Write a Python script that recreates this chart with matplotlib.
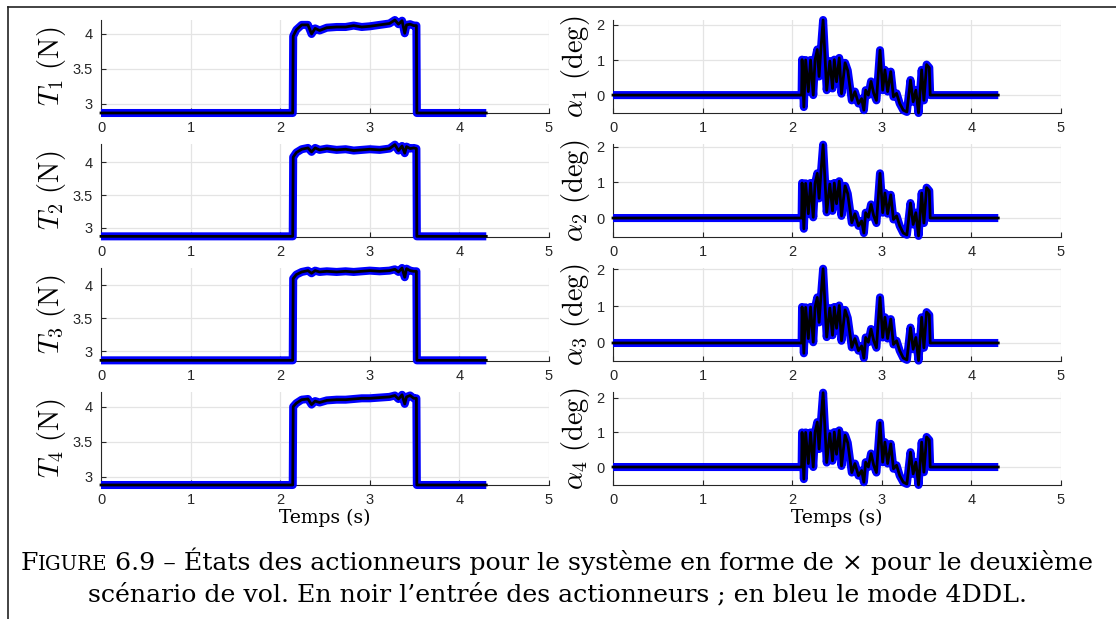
import matplotlib
matplotlib.use('Agg')
import matplotlib.pyplot as plt
from matplotlib.lines import Line2D
from matplotlib.ticker import FormatStrFormatter

plt.rcParams['font.family'] = 'Liberation Sans'
plt.rcParams['mathtext.fontset'] = 'cm'

# time axis of the thrust panels (s)
t_thrust = [0.00, 2.14, 2.145, 2.18, 2.24, 2.31, 2.35, 2.39, 2.44, 2.52, 2.63, 2.73, 2.82, 2.91,
            3.00, 3.11, 3.22, 3.28, 3.32, 3.36, 3.39, 3.41, 3.45, 3.49, 3.52, 3.525, 4.30]
T1 = [2.87, 2.87, 3.97, 4.06, 4.13, 4.13, 4.00, 4.08, 4.05, 4.09, 4.10, 4.10, 4.12, 4.10,
      4.11, 4.13, 4.15, 4.20, 4.14, 4.19, 4.01, 4.13, 4.14, 4.12, 4.12, 2.87, 2.87]
T2 = [2.87, 2.87, 4.08, 4.15, 4.20, 4.22, 4.16, 4.22, 4.19, 4.21, 4.19, 4.20, 4.18, 4.19,
      4.20, 4.19, 4.21, 4.27, 4.18, 4.25, 4.14, 4.24, 4.21, 4.22, 4.21, 2.87, 2.87]
T3 = [2.86, 2.86, 4.10, 4.16, 4.20, 4.22, 4.18, 4.22, 4.20, 4.21, 4.20, 4.21, 4.20, 4.21,
      4.22, 4.21, 4.22, 4.24, 4.20, 4.26, 4.12, 4.25, 4.22, 4.21, 4.21, 2.86, 2.86]
T4 = [2.88, 2.88, 4.00, 4.05, 4.10, 4.11, 4.03, 4.08, 4.06, 4.09, 4.10, 4.10, 4.11, 4.12,
      4.12, 4.13, 4.14, 4.16, 4.11, 4.17, 4.04, 4.14, 4.16, 4.12, 4.12, 2.88, 2.88]

# time axis of the tilt-angle panels (s)
t_alpha = [0.00, 2.105, 2.11, 2.13, 2.15, 2.18, 2.205, 2.235, 2.255, 2.28, 2.30, 2.32, 2.345,
           2.385, 2.42, 2.45, 2.47, 2.495, 2.525, 2.55, 2.59, 2.62, 2.665, 2.70, 2.74, 2.775,
           2.80, 2.82, 2.85, 2.88, 2.91, 2.94, 2.98, 3.01, 3.035, 3.065, 3.10, 3.13, 3.165,
           3.20, 3.24, 3.28, 3.32, 3.35, 3.38, 3.41, 3.445, 3.47, 3.50, 3.53, 3.54, 4.30]
alpha1 = [0, 0, 1.01, -0.34, 1.00, 0.10, 1.00, 0.00, 1.00, 1.30, 0.53, 1.30, 2.14,
          0.14, 0.97, 0.19, 1.01, 0.38, 1.06, 0.04, 0.92, 0.70, -0.15, 0.10, -0.24, -0.10,
          -0.43, 0.14, 0.00, 0.39, 0.05, -0.15, 1.28, 0.14, 0.72, 0.10, 0.67, -0.05, 0.05,
          -0.24, -0.43, -0.48, 0.43, -0.19, 0.14, -0.51, 0.72, -0.15, 0.87, 0.78, 0.00, 0.00]
alpha2 = [0, 0, 0.98, -0.30, 0.97, 0.12, 0.98, 0.02, 0.97, 1.25, 0.55, 1.25, 2.05,
          0.16, 0.95, 0.20, 0.98, 0.40, 1.03, 0.06, 0.90, 0.68, -0.13, 0.12, -0.22, -0.08,
          -0.42, 0.15, 0.02, 0.38, 0.06, -0.14, 1.25, 0.15, 0.70, 0.12, 0.65, -0.04, 0.06,
          -0.22, -0.42, -0.47, 0.42, -0.18, 0.15, -0.50, 0.70, -0.14, 0.85, 0.76, 0.00, 0.00]
alpha3 = [0, 0, 0.98, -0.28, 0.97, 0.12, 0.98, 0.02, 0.97, 1.24, 0.56, 1.24, 2.02,
          0.16, 0.95, 0.21, 0.98, 0.40, 1.02, 0.06, 0.90, 0.68, -0.12, 0.12, -0.21, -0.08,
          -0.41, 0.15, 0.02, 0.38, 0.06, -0.13, 1.24, 0.15, 0.70, 0.12, 0.65, -0.04, 0.06,
          -0.21, -0.41, -0.46, 0.42, -0.17, 0.15, -0.48, 0.70, -0.13, 0.84, 0.76, 0.00, 0.00]
alpha4 = [0, 0, 1.00, -0.35, 1.00, 0.10, 1.00, 0.00, 1.00, 1.30, 0.52, 1.30, 2.15,
          0.13, 0.97, 0.18, 1.01, 0.37, 1.06, 0.03, 0.92, 0.70, -0.16, 0.10, -0.25, -0.10,
          -0.44, 0.14, 0.00, 0.39, 0.05, -0.16, 1.28, 0.14, 0.72, 0.10, 0.67, -0.05, 0.05,
          -0.25, -0.44, -0.49, 0.43, -0.20, 0.14, -0.52, 0.72, -0.15, 0.87, 0.78, 0.00, 0.00]

thrusts = [T1, T2, T3, T4]
alphas = [alpha1, alpha2, alpha3, alpha4]
thrust_ylims = [(2.87, 4.20), (2.86, 4.28), (2.85, 4.26), (2.88, 4.21)]
alpha_ylims = [(-0.51, 2.14), (-0.53, 2.07), (-0.49, 2.04), (-0.52, 2.17)]

W, H = 1116, 619
fig = plt.figure(figsize=(W / 100, H / 100), dpi=100)

tops = [20, 144, 268, 392]
ax_h = 93
ax_w = 448
grey = '#262626'


def style(ax, ylim, yticks):
    ax.set_xlim(0, 5)
    ax.set_ylim(*ylim)
    ax.set_xticks(range(6))
    ax.set_yticks(yticks)
    ax.yaxis.set_major_formatter(FormatStrFormatter('%g'))
    ax.grid(True, color='#e4e4e4', lw=0.9)
    ax.set_axisbelow(True)
    ax.spines['top'].set_visible(False)
    ax.spines['right'].set_visible(False)
    for s in ('left', 'bottom'):
        ax.spines[s].set_color(grey)
        ax.spines[s].set_linewidth(0.8)
    ax.tick_params(direction='in', length=3.5, width=0.8, colors=grey, labelsize=10.5, pad=6)


def draw(ax, t, v):
    ax.plot(t, v, color='blue', lw=5.8, solid_joinstyle='round', solid_capstyle='butt',
            clip_on=False, zorder=3)
    ax.plot(t, v, color='black', lw=2.0, solid_joinstyle='round', clip_on=False, zorder=4)


for i in range(4):
    bottom = 1 - (tops[i] + ax_h) / H
    axl = fig.add_axes([101 / W, bottom, ax_w / W, ax_h / H])
    style(axl, thrust_ylims[i], [3, 3.5, 4])
    draw(axl, t_thrust, thrusts[i])
    axl.set_ylabel(r'$T_%d\ \mathrm{(N)}$' % (i + 1), fontsize=20.5)
    axl.yaxis.set_label_coords(-0.074, 0.5)

    axr = fig.add_axes([613 / W, bottom, ax_w / W, ax_h / H])
    style(axr, alpha_ylims[i], [0, 1, 2])
    draw(axr, t_alpha, alphas[i])
    axr.set_ylabel(r'$\alpha_%d\ \mathrm{(deg)}$' % (i + 1), fontsize=20.5)
    axr.yaxis.set_label_coords(-0.047, 0.5)

    if i == 3:
        for ax in (axl, axr):
            ax.set_xlabel('Temps (s)', family='DejaVu Serif', fontsize=13.5, labelpad=1)

# page frame
fig.add_artist(Line2D([8 / W, 1], [1 - 7 / H, 1 - 7 / H], color='#222222', lw=1.2))
fig.add_artist(Line2D([8 / W, 8 / W], [0, 1 - 7 / H], color='#222222', lw=1.2))

# caption, with "Figure" in small capitals
serif = 'DejaVu Serif'
fs = 18.2
renderer = fig.canvas.get_renderer()
pieces = [('F', fs), ('IGURE', fs * 0.78),
          (' 6.9 – États des actionneurs pour le système en forme de × pour le deuxième', fs)]
objs, widths = [], []
for s, size in pieces:
    tx = fig.text(0, 0, s, fontsize=size, family=serif, ha='left', va='baseline')
    widths.append(tx.get_window_extent(renderer).width)
    objs.append(tx)
x = 557 - sum(widths) / 2
for tx, w in zip(objs, widths):
    tx.set_position((x / W, 1 - 570 / H))
    x += w
fig.text(557 / W, 1 - 601 / H,
         'scénario de vol. En noir l’entrée des actionneurs ; en bleu le mode 4DDL.',
         fontsize=fs, family=serif, ha='center', va='baseline')

fig.savefig('out.png', dpi=100)
